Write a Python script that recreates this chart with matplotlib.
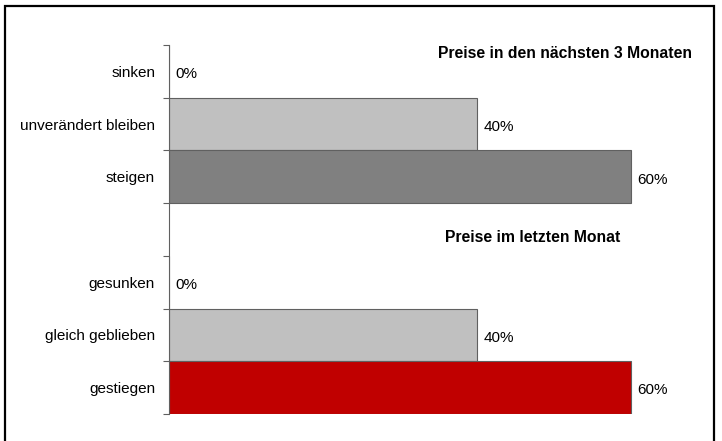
import matplotlib
matplotlib.use("Agg")
import matplotlib.pyplot as plt
from matplotlib.patches import Rectangle

plt.rcParams['font.family'] = ['Liberation Sans', 'DejaVu Sans']

categories = ["sinken", "unverändert bleiben", "steigen", "",
              "gesunken", "gleich geblieben", "gestiegen"]
values = [0, 40, 60, None, 0, 40, 60]
colors = ["#C0C0C0", "#C0C0C0", "#808080", None, "#C0C0C0", "#C0C0C0", "#C00000"]
titles = ["Preise in den nächsten 3 Monaten", "Preise im letzten Monat"]

W, H = 722, 441
fig = plt.figure(figsize=(W / 100, H / 100), dpi=100)
ax = fig.add_axes([169 / W, 1 - 414 / H, (700 - 169) / W, (414 - 45) / H])

n = len(categories)
pos = list(range(n))
for p, v, c in zip(pos, values, colors):
    if v is None:
        continue
    ax.barh(p, v, height=1.0, color=c, edgecolor="#606060", linewidth=0.8)
    ax.annotate(f"{v}%", xy=(v, p), xytext=(4.5, -2), textcoords="offset points",
                va="center", ha="left", fontsize=11, color="black")

ax.set_xlim(0, (700 - 169) / 7.7)
ax.set_ylim(n - 0.5, -0.5)
ax.set_yticks(pos)
ax.set_yticklabels(categories, fontsize=11)
ax.set_yticks([p - 0.5 for p in range(n + 1)], minor=True)
ax.tick_params(axis="y", which="major", length=0, pad=10)
ax.tick_params(axis="y", which="minor", length=4, width=0.8, color="#606060", direction="out")
ax.set_xticks([])
for s in ["top", "right", "bottom"]:
    ax.spines[s].set_visible(False)
ax.spines["left"].set_color("#606060")
ax.spines["left"].set_linewidth(0.8)

ax.text(692 / W, 1 - 53 / H, titles[0], transform=fig.transFigure,
        ha="right", va="center", fontsize=11.3, fontweight="bold")
ax.text(533 / W, 1 - 238 / H, titles[1], transform=fig.transFigure,
        ha="center", va="center", fontsize=11.3, fontweight="bold")

fig.patches.append(Rectangle((5 / W, -0.05), (714 - 5) / W, 1.05 - 6 / H,
                             transform=fig.transFigure, fill=False,
                             edgecolor="black", linewidth=1.6))

fig.savefig("out.png", dpi=100)
